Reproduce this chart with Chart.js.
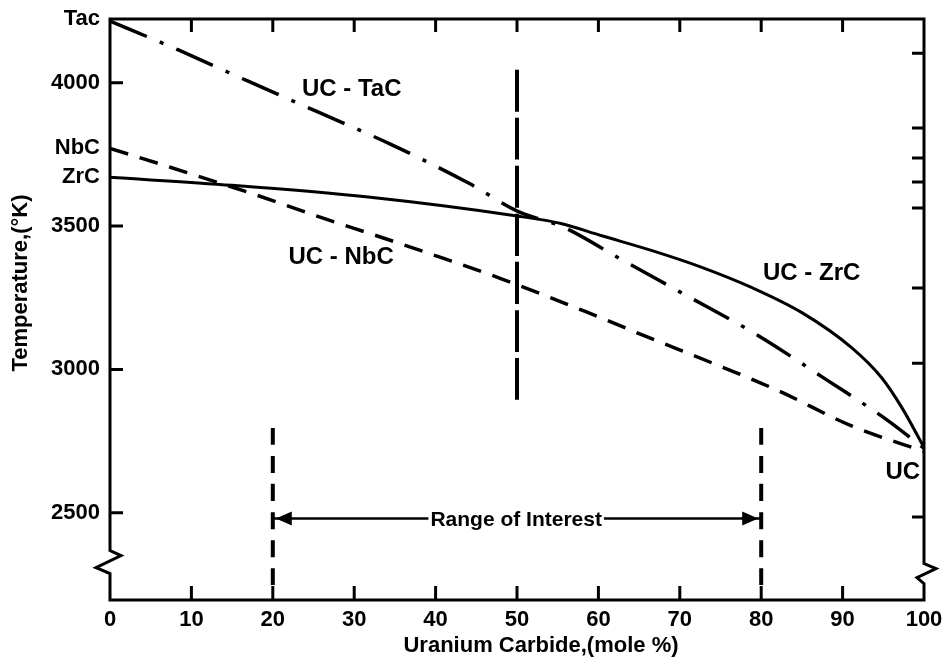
<!DOCTYPE html>
<html>
<head>
<meta charset="utf-8">
<title>UC - carbide melting temperatures</title>
<script src="https://cdn.jsdelivr.net/npm/chart.js@4.4.1/dist/chart.umd.min.js"></script>
<style>
  html, body { margin: 0; padding: 0; background: #fff; }
  #wrap { width: 944px; height: 666px; }
</style>
</head>
<body>
<div id="wrap"><canvas id="meltChart" width="944" height="666"></canvas></div>
<script>
// axis ranges and ticks
const yMin = 2196, yMax = 4222;
const xTickMarks = [10, 20, 30, 40, 50, 60, 70, 80, 90];
const yTicks = [2500, 3000, 3500, 4000];
const endNames = ['ZrC', 'NbC', 'Tac'];
const endTemps = [3670, 3771, 4222];
const rightTicks = [4103, 3842, 3737, 3654, 3563, 3284, 3022, 2485];

// UC - ZrC (solid)
const zrcX = [0, 15, 31.7, 50, 55.4, 60.3, 66.5, 72.7, 78.8, 85, 91.1, 94.8, 97.3, 100];
const zrcY = [3670, 3642, 3601, 3535, 3509, 3467, 3415, 3356, 3286, 3198, 3076, 2971, 2866, 2728];

// UC - TaC (dash-dot)
const tacX = [0, 8.4, 16.9, 25.6, 34.5, 44.1, 50.1, 55.8, 62.6, 70.8, 79.4, 87.8, 95.4, 100];
const tacY = [4215, 4114, 4006, 3897, 3785, 3649, 3551, 3495, 3387, 3258, 3122, 2968, 2825, 2725];

// UC - NbC (dashed)
const nbcX = [0, 7.4, 18.1, 25.9, 33.3, 41, 48, 58.3, 66.9, 74.8, 82.1, 91.1, 100];
const nbcY = [3771, 3705, 3607, 3530, 3461, 3387, 3317, 3203, 3103, 3013, 2926, 2803, 2714];

// guide lines
const midLineX = [50, 50];
const midLineY = [2894, 4055];
const rangeLowX = [20, 20];
const rangeHighX = [80, 80];
const rangeLineY = [2248, 2806];
const arrowX = [20, 80];
const arrowY = [2480, 2480];

// text placed on the plot
const notes = [
    { text: 'UC - TaC', x: 29.7, y: 3978 },
    { text: 'UC - NbC', x: 28.4, y: 3392 },
    { text: 'UC - ZrC', x: 86.2, y: 3336 },
    { text: 'UC', x: 97.4, y: 2642 }
];
const rangeText = { text: 'Range of Interest', x: 49.9, y: 2478 };

const pts = (xs, ys) => xs.map((x, i) => ({ x: x, y: ys[i] }));
const FONT = '"Liberation Sans", Arial, sans-serif';

function lineSet(label, xs, ys, dash, width) {
    return {
        label: label,
        data: pts(xs, ys),
        borderColor: '#000',
        borderWidth: width,
        borderDash: dash,
        borderCapStyle: 'butt',
        pointRadius: 0,
        fill: false,
        cubicInterpolationMode: 'monotone'
    };
}

function drawSegments(c, segs) {
    c.beginPath();
    segs.forEach(s => {
        c.moveTo(s[0], s[1]);
        c.lineTo(s[2], s[3]);
    });
    c.stroke();
}

const decor = {
    id: 'decor',
    afterDatasetsDraw(chart) {
        const c = chart.ctx;
        const a = chart.chartArea;
        const x = chart.scales.x, y = chart.scales.y;
        c.save();
        c.setLineDash([]);
        c.strokeStyle = '#000';
        c.fillStyle = '#000';

        // frame with the axis break marks
        const cl = y.getPixelForValue(2330);
        const cr = y.getPixelForValue(2295);
        c.lineWidth = 3;
        c.lineJoin = 'miter';
        c.beginPath();
        c.moveTo(a.left, a.top);
        c.lineTo(a.left, cl - 11);
        c.lineTo(a.left + 11, cl - 6);
        c.lineTo(a.left - 14, cl + 6);
        c.lineTo(a.left, cl + 12);
        c.lineTo(a.left, a.bottom);
        c.lineTo(a.right, a.bottom);
        c.lineTo(a.right, cr + 12);
        c.lineTo(a.right - 7, cr + 6);
        c.lineTo(a.right + 12, cr - 3);
        c.lineTo(a.right, cr - 8);
        c.lineTo(a.right, a.top);
        c.closePath();
        c.stroke();

        // inward tick marks
        c.lineWidth = 3;
        drawSegments(c, xTickMarks.map(v => {
            const px = x.getPixelForValue(v);
            return [px, a.bottom, px, a.bottom - 14];
        }));
        drawSegments(c, xTickMarks.map(v => {
            const px = x.getPixelForValue(v);
            return [px, a.top, px, a.top + 13];
        }));
        drawSegments(c, yTicks.map(v => {
            const py = y.getPixelForValue(v);
            return [a.left, py, a.left + 13, py];
        }));
        drawSegments(c, rightTicks.map(v => {
            const py = y.getPixelForValue(v);
            return [a.right, py, a.right - 12, py];
        }));

        // arrow heads on the range line
        const arrowMeta = chart.getDatasetMeta(chart.data.datasets.length - 1);
        const p0 = arrowMeta.data[0], p1 = arrowMeta.data[arrowMeta.data.length - 1];
        c.beginPath();
        c.moveTo(p0.x + 3, p0.y);
        c.lineTo(p0.x + 19, p0.y - 7);
        c.lineTo(p0.x + 19, p0.y + 7);
        c.closePath();
        c.moveTo(p1.x - 3, p1.y);
        c.lineTo(p1.x - 19, p1.y - 7);
        c.lineTo(p1.x - 19, p1.y + 7);
        c.closePath();
        c.fill();

        // range label over the arrow line
        c.font = 'bold 21px ' + FONT;
        c.textAlign = 'center';
        c.textBaseline = 'middle';
        const rx = x.getPixelForValue(rangeText.x), ry = y.getPixelForValue(rangeText.y);
        const rw = c.measureText(rangeText.text).width;
        c.fillStyle = '#fff';
        c.fillRect(rx - rw / 2 - 2, ry - 10, rw + 4, 20);
        c.fillStyle = '#000';
        c.fillText(rangeText.text, rx, ry + 1);

        // curve labels
        c.font = 'bold 24px ' + FONT;
        notes.forEach(n => {
            c.fillText(n.text, x.getPixelForValue(n.x), y.getPixelForValue(n.y));
        });

        // axis titles
        c.font = 'bold 22px ' + FONT;
        c.fillText('Uranium Carbide,(mole %)', 541, 646);
        c.translate(21, 283);
        c.rotate(-Math.PI / 2);
        c.fillText('Temperature,(°K)', 0, 0);
        c.restore();
    }
};

const meltChart = new Chart(document.getElementById('meltChart').getContext('2d'), {
    type: 'line',
    data: {
        datasets: [
            lineSet('UC - ZrC', zrcX, zrcY, [], 3),
            lineSet('UC - TaC', tacX, tacY, [40, 14, 4, 14], 3.5),
            lineSet('UC - NbC', nbcX, nbcY, [19, 12], 3.5),
            lineSet('50 %', midLineX, midLineY, [42, 6], 4),
            lineSet('20 %', rangeLowX, rangeLineY, [17, 11], 4),
            lineSet('80 %', rangeHighX, rangeLineY, [17, 11], 4),
            lineSet('Range of Interest', arrowX, arrowY, [], 2.5)
        ]
    },
    options: {
        responsive: false,
        animation: false,
        layout: { padding: { top: 19, right: 20, left: 0, bottom: 0 } },
        plugins: {
            legend: { display: false },
            tooltip: { enabled: false }
        },
        scales: {
            x: {
                type: 'linear',
                position: 'bottom',
                min: 0,
                max: 100,
                grid: { display: false, drawTicks: false },
                border: { display: false },
                ticks: {
                    stepSize: 10,
                    autoSkip: false,
                    maxRotation: 0,
                    padding: 7,
                    color: '#000',
                    font: { family: FONT, size: 22, weight: 'bold' }
                },
                afterFit: s => {
                    s.height = 66;
                    s.paddingLeft = 0;
                    s.paddingRight = 0;
                }
            },
            y: {
                type: 'linear',
                min: yMin,
                max: yMax,
                grid: { display: false, drawTicks: false },
                border: { display: false },
                afterBuildTicks: s => {
                    s.ticks = yTicks.concat(endTemps).map(v => ({ value: v }));
                },
                ticks: {
                    autoSkip: false,
                    padding: 10,
                    color: '#000',
                    font: { family: FONT, size: 22, weight: 'bold' },
                    callback: v => {
                        const i = endTemps.indexOf(v);
                        return i >= 0 ? endNames[i] : String(v);
                    }
                },
                afterFit: s => {
                    s.width = 110;
                    s.paddingTop = 0;
                    s.paddingBottom = 0;
                }
            }
        }
    },
    plugins: [decor]
});
</script>
</body>
</html>
